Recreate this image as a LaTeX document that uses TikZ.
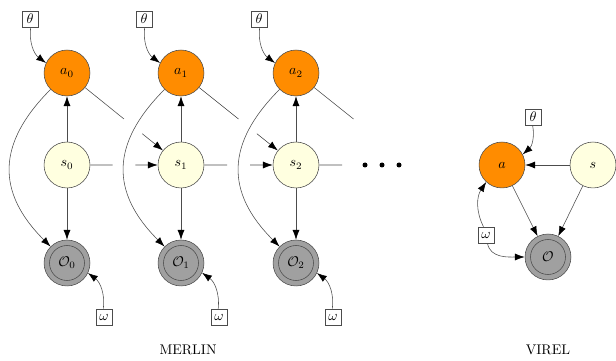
\documentclass[tikz,border=0pt]{standalone}
\usepackage{amsmath}
\usetikzlibrary{calc,arrows.meta}

\definecolor{actfill}{RGB}{255,140,0}
\definecolor{stfill}{RGB}{255,255,224}
\definecolor{obsfill}{RGB}{160,160,160}

\tikzset{
  act/.style={circle, draw=black!70, fill=actfill, minimum size=32.8pt, inner sep=0pt},
  st/.style={circle, draw=black!70, fill=stfill, minimum size=32.8pt, inner sep=0pt},
  obs/.style={circle, draw=black!70, fill=obsfill, minimum size=32.8pt, inner sep=0pt,
    path picture={\draw[black!70] (path picture bounding box.center) circle (12.5pt);}},
  parm/.style={rectangle, draw=black!70, fill=white, minimum size=11.5pt, inner sep=1.5pt},
  arr/.style={draw=black!70, -{Latex[length=7pt,width=5pt,color=black]}},
}

\begin{document}
\begin{tikzpicture}[x=0.714pt,y=0.714pt]
  \useasboundingbox (0,0) rectangle (616,360);

  %% slice 0
  \node[parm] (th0) at (30,341) {$\theta$};
  \node[act] (a0) at (67,287) {$a_0$};
  \node[st] (s0) at (67,195) {$s_0$};
  \node[obs] (O0) at (67,97) {$\mathcal{O}_0$};
  \node[parm] (om0) at (104,43) {$\omega$};

  %% slice 1
  \node[parm] (th1) at (144,341) {$\theta$};
  \node[act] (a1) at (181,287) {$a_1$};
  \node[st] (s1) at (181,195) {$s_1$};
  \node[obs] (O1) at (181,97) {$\mathcal{O}_1$};
  \node[parm] (om1) at (219,43) {$\omega$};

  %% slice 2
  \node[parm] (th2) at (259,341) {$\theta$};
  \node[act] (a2) at (296,287) {$a_2$};
  \node[st] (s2) at (296,195) {$s_2$};
  \node[obs] (O2) at (296,97) {$\mathcal{O}_2$};
  \node[parm] (om2) at (333,43) {$\omega$};
  \coordinate (s3) at (411,195);

  %% dots
  \fill (365,195) circle (2.5);
  \fill (382,195) circle (2.5);
  \fill (399,195) circle (2.5);

  %% edges within slices
  \draw[arr] (th0) to[bend right=30] (a0);
  \draw[arr] (s0) -- (a0);
  \draw[arr] (s0) -- (O0);
  \draw[arr] (a0) to[out=225,in=135,looseness=1.25] (O0);
  \draw[arr] (om0) to[bend right=30] (O0);

  \draw[arr] (th1) to[bend right=30] (a1);
  \draw[arr] (s1) -- (a1);
  \draw[arr] (s1) -- (O1);
  \draw[arr] (a1) to[out=225,in=135,looseness=1.25] (O1);
  \draw[arr] (om1) to[bend right=30] (O1);

  \draw[arr] (th2) to[bend right=30] (a2);
  \draw[arr] (s2) -- (a2);
  \draw[arr] (s2) -- (O2);
  \draw[arr] (a2) to[out=225,in=135,looseness=1.25] (O2);
  \draw[arr] (om2) to[bend right=30] (O2);

  %% edges between slices
  \draw[black!70] (a0) -- ($(a0)!0.5!(s1)$);
  \draw[black!70] (s0) -- ($(s0)!0.4!(s1)$);
  \draw[arr] ($(a0)!0.66!(s1)$) -- (s1);
  \draw[arr] ($(s0)!0.6!(s1)$) -- (s1);

  \draw[black!70] (a1) -- ($(a1)!0.5!(s2)$);
  \draw[black!70] (s1) -- ($(s1)!0.4!(s2)$);
  \draw[arr] ($(a1)!0.66!(s2)$) -- (s2);
  \draw[arr] ($(s1)!0.6!(s2)$) -- (s2);

  \draw[black!70] (a2) -- ($(a2)!0.5!(s3)$);
  \draw[black!70] (s2) -- ($(s2)!0.4!(s3)$);

  %% VIREL
  \node[parm] (vth) at (533,243) {$\theta$};
  \node[act] (va) at (502,195) {$a$};
  \node[st] (vs) at (593,195) {$s$};
  \node[obs] (vO) at (548,103) {$\mathcal{O}$};
  \node[parm] (vom) at (486,125) {$\omega$};

  \draw[arr] (vs) -- (va);
  \draw[arr] (va) -- (vO);
  \draw[arr] (vs) -- (vO);
  \draw[arr] (vth) to[bend left=30] (va);
  \draw[arr] (vom) to[bend left=30] (va);
  \draw[arr] (vom) to[out=-80,in=180] (vO);

  %% captions
  \node (merlin) at (188,10) {MERLIN};
  \node (virel) at (548,10) {VIREL};

\end{tikzpicture}
\end{document}
